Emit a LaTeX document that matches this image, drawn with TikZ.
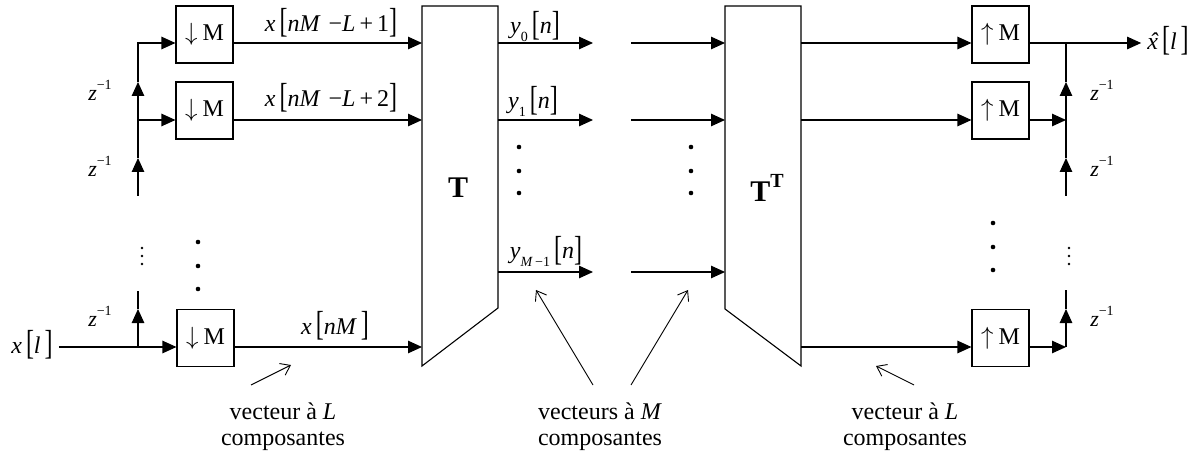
\documentclass[tikz,border=0pt]{standalone}
\usepackage{fontspec}
\setmainfont{Liberation Serif}
\usepackage{graphicx}
\usetikzlibrary{arrows.meta}
\newcommand{\lbk}{\raisebox{-0.05em}{\scalebox{1}[1.45]{[}}}
\newcommand{\rbk}{\raisebox{-0.05em}{\scalebox{1}[1.45]{]}}}
\newcommand{\mi}[1]{\textit{#1}}
\newcommand{\supm}[1]{\raisebox{0.5em}{\fontsize{14}{14}\selectfont #1}}
\newcommand{\subm}[1]{\raisebox{-0.3em}{\fontsize{14}{14}\selectfont #1}}
\newcommand{\zinv}{\mi{z}\supm{−1}}
\newcommand{\xhat}{\ooalign{\mi{x}\cr\hidewidth\kern0.12em\mi{ˆ}\hidewidth\cr}}
\newcommand{\dnM}{\raisebox{-3pt}{$\downarrow$\kern5pt M}}
\newcommand{\upM}{\raisebox{-3pt}{$\uparrow$\kern5pt M}}
\newcommand{\fsz}{\fontsize{24}{26}\selectfont}
\tikzset{
  blk/.style={draw, line width=1.1pt, minimum width=57pt, minimum height=57pt, inner sep=0pt, font=\fsz},
  ln/.style={line width=1.1pt},
  arr/.style={line width=1.1pt, -{Triangle[length=14pt,width=12.5pt]}},
  ptr/.style={line width=0.9pt, -{Straight Barb[length=9pt,width=13pt]}},
  lbl/.style={font=\fsz, inner sep=0pt},
  zl/.style={font=\fontsize{22}{24}\selectfont, inner sep=0pt},
  captxt/.style={font=\fsz, align=center, inner sep=0pt},
  bigT/.style={font=\bfseries\fontsize{30}{30}\selectfont, inner sep=0pt}
}
\begin{document}
\begin{tikzpicture}[x=1pt,y=-1pt]
\useasboundingbox (0,0) rectangle (1199,454);
% rows
\coordinate (r1) at (0,43);
\coordinate (r2) at (0,120);
\coordinate (r3) at (0,347);
\coordinate (rm) at (0,272);
% ---------- analysis side ----------
\node[blk] (d1) at (204.5,34.5) {\dnM};
\node[blk] (d2) at (204.5,110.5) {\dnM};
\node[blk] (d3) at (205.5,338) {\dnM};
\node[lbl] (xin) at (32,345) {\mi{x}\,\lbk\mi{l}\,\rbk};
\coordinate (t1) at (138,43);
\coordinate (t2) at (138,120);
\coordinate (t3) at (138,347);
\coordinate (a1) at (138,82);
\coordinate (a2) at (138,158);
\coordinate (e2) at (138,196);
\coordinate (a3) at (138,309);
\coordinate (e3) at (138,291);
\draw[arr, shorten <=6pt] (xin.east|-r3) -- (d3.west|-r3);
\draw[arr] (t3) -- (a3);
\draw[ln] (a3) -- (e3);
\draw[arr] (e2) -- (a2);
\draw[ln] (a2) -- (t2);
\draw[arr] (t2) -- (a1);
\draw[arr] (a1) -- (t1) -- (d1.west|-t1);
\draw[arr] (t2) -- (d2.west|-t2);
\node[zl] (z1) at (100,90) {\zinv};
\node[zl] (z2) at (100,166) {\zinv};
\node[zl] (z3) at (100,316) {\zinv};
\foreach \y in {248,256,264} \fill (142,\y) circle (1.3);
\foreach \y in {242,266,289} \fill (198,\y) circle (2.3);
% T block
\coordinate (Ta) at (422,6);
\coordinate (Tb) at (498,6);
\coordinate (Tc) at (498,308);
\coordinate (Td) at (422,366);
\draw[ln] (Ta) -- (Tb) -- (Tc) -- (Td) -- cycle;
\node[bigT] (T) at (458,188) {T};
\draw[arr] (d1.east|-r1) -- (Ta|-r1);
\draw[arr] (d2.east|-r2) -- (Ta|-r2);
\draw[arr] (d3.east|-r3) -- (Ta|-r3);
\node[lbl] (lx1) at (331,23) {\mi{x}\,\lbk\mi{nM}\,\,−\mi{L}\,+\,1\rbk};
\node[lbl] (lx2) at (331,98) {\mi{x}\,\lbk\mi{nM}\,\,−\mi{L}\,+\,2\rbk};
\node[lbl] (lx3) at (335,326) {\mi{x}\,\lbk\mi{nM}\,\rbk};
% outputs of T
\coordinate (o1) at (593,43);
\coordinate (o2) at (593,120);
\coordinate (om) at (593,272);
\draw[arr] (Tb|-r1) -- (o1);
\draw[arr] (Tb|-r2) -- (o2);
\draw[arr] (Tb|-rm) -- (om);
\node[lbl] (ly0) at (535,26) {\mi{y}\subm{0}\,\lbk\mi{n}\rbk};
\node[lbl] (ly1) at (533,101) {\mi{y}\subm{1}\,\lbk\mi{n}\rbk};
\node[lbl] (lym) at (546,251) {\mi{y}\subm{\mi{M}\,−1}\,\lbk\mi{n}\rbk};
\foreach \y in {147,171,193} {\fill (519,\y) circle (2.3); \fill (691,\y) circle (2.3);}
% inputs of T^T
\coordinate (Ua) at (725,6);
\coordinate (Ub) at (801,6);
\coordinate (Uc) at (801,366);
\coordinate (Ud) at (725,309);
\draw[ln] (Ua) -- (Ub) -- (Uc) -- (Ud) -- cycle;
\node[bigT] (TT) at (767,188) {T\raisebox{0.45em}{\fontsize{20}{20}\selectfont T}};
\coordinate (i1) at (631,43);
\coordinate (i2) at (631,120);
\coordinate (im) at (631,272);
\draw[arr] (i1) -- (Ua|-r1);
\draw[arr] (i2) -- (Ua|-r2);
\draw[arr] (im) -- (Ua|-rm);
% ---------- synthesis side ----------
\node[blk] (u1) at (1000.5,34.5) {\upM};
\node[blk] (u2) at (1000.5,110.5) {\upM};
\node[blk] (u3) at (1000.5,338) {\upM};
\draw[arr] (Ub|-r1) -- (u1.west|-r1);
\draw[arr] (Ub|-r2) -- (u2.west|-r2);
\draw[arr] (Ub|-r3) -- (u3.west|-r3);
\node[lbl] (xo) at (1168,41) {\xhat\,\lbk\mi{l}\,\rbk};
\coordinate (s1) at (1066,43);
\coordinate (s2) at (1066,120);
\coordinate (s3) at (1066,347);
\coordinate (b1) at (1066,82);
\coordinate (b2) at (1066,158);
\coordinate (f2) at (1066,196);
\coordinate (b3) at (1066,309);
\coordinate (f3) at (1066,290);
\draw[arr, shorten >=6pt] (u1.east|-r1) -- (xo.west|-r1);
\draw[arr] (f2) -- (b2);
\draw[ln] (b2) -- (s2);
\draw[arr] (s2) -- (b1);
\draw[ln] (b1) -- (s1);
\draw[arr] (u2.east|-r2) -- (s2);
\draw[arr] (u3.east|-r3) -- (s3);
\draw[arr] (s3) -- (b3);
\draw[ln] (b3) -- (f3);
\node[zl] (z4) at (1102,90) {\zinv};
\node[zl] (z5) at (1102,166) {\zinv};
\node[zl] (z6) at (1102,316) {\zinv};
\foreach \y in {248,256,264} \fill (1069,\y) circle (1.3);
\foreach \y in {223,247,270} \fill (993,\y) circle (2.3);
% pointers and captions
\coordinate (p1s) at (251,385); \coordinate (p1e) at (291,365);
\coordinate (p2s) at (593,385); \coordinate (p2e) at (536,290);
\coordinate (p3s) at (631,385); \coordinate (p3e) at (688,290);
\coordinate (p4s) at (914,385); \coordinate (p4e) at (876,366);
\draw[ptr] (p1s) -- (p1e);
\draw[ptr] (p2s) -- (p2e);
\draw[ptr] (p3s) -- (p3e);
\draw[ptr] (p4s) -- (p4e);
\node[captxt] (c1) at (283,427) {vecteur à \mi{L}\\composantes};
\node[captxt] (c2) at (600,427) {vecteurs à \mi{M}\\composantes};
\node[captxt] (c3) at (905,427) {vecteur à \mi{L}\\composantes};
\end{tikzpicture}
\end{document}
